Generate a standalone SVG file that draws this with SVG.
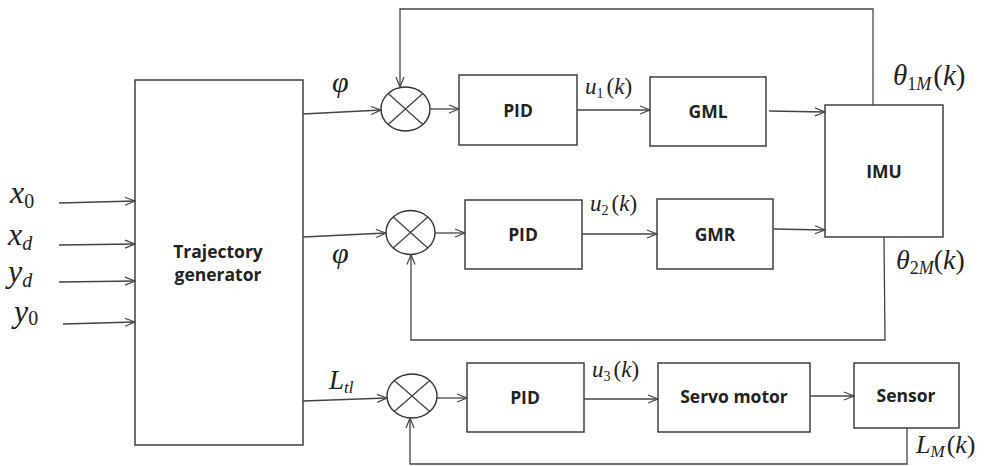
<svg xmlns="http://www.w3.org/2000/svg" width="985" height="466" viewBox="0 0 985 466">
<style>
.box{fill:#fff;stroke:#333;stroke-width:1.4}
.lbl{font-family:"Open Sans","DejaVu Sans",sans-serif;font-weight:bold;font-size:17.5px;fill:#222;text-anchor:middle}
.ln{fill:none;stroke:#444;stroke-width:1.3}
.m{font-family:"Liberation Serif","Times New Roman",serif;fill:#222}
.i{font-style:italic}
</style>
<defs>
<marker id="ar" viewBox="0 0 12 10" refX="11" refY="5" markerWidth="12" markerHeight="10" markerUnits="userSpaceOnUse" orient="auto">
<path d="M1,1 L11,5 L1,9" fill="none" stroke="#444" stroke-width="1.2"/>
</marker>
</defs>
<rect width="985" height="466" fill="#fff"/>

<g id="traj"><rect class="box" x="135" y="80" width="168" height="365"/>
<text class="lbl" x="218" y="258">Trajectory</text><text class="lbl" x="218" y="281">generator</text></g>

<g id="sum1"><ellipse class="box" cx="405.5" cy="109" rx="24.5" ry="22"/>
<path class="ln" d="M388.2,93.4 L422.8,124.6 M422.8,93.4 L388.2,124.6"/></g>
<g id="sum2"><ellipse class="box" cx="410.5" cy="232.5" rx="24.5" ry="22"/>
<path class="ln" d="M393.2,216.9 L427.8,248.1 M427.8,216.9 L393.2,248.1"/></g>
<g id="sum3"><ellipse class="box" cx="412" cy="396" rx="25" ry="22"/>
<path class="ln" d="M394.3,380.4 L429.7,411.6 M429.7,380.4 L394.3,411.6"/></g>

<g id="pid1"><rect class="box" x="459" y="75" width="118" height="70"/><text class="lbl" x="518" y="117">PID</text></g>
<g id="gml"><rect class="box" x="650" y="77" width="116" height="69"/><text class="lbl" x="708" y="118">GML</text></g>
<g id="imu"><rect class="box" x="825" y="105" width="118" height="132"/><text class="lbl" x="884" y="178">IMU</text></g>
<g id="pid2"><rect class="box" x="465" y="200" width="117" height="69"/><text class="lbl" x="523" y="241">PID</text></g>
<g id="gmr"><rect class="box" x="657" y="199" width="116" height="70"/><text class="lbl" x="715" y="241">GMR</text></g>
<g id="pid3"><rect class="box" x="467" y="363" width="117" height="69"/><text class="lbl" x="525" y="404">PID</text></g>
<g id="servo"><rect class="box" x="658" y="363" width="152" height="69"/><text class="lbl" x="734" y="403">Servo motor</text></g>
<g id="sensor"><rect class="box" x="854" y="363" width="105" height="65"/><text class="lbl" x="906" y="402">Sensor</text></g>

<g id="connectors">
<path class="ln" marker-end="url(#ar)" d="M59,203 L135,201"/>
<path class="ln" marker-end="url(#ar)" d="M59,245 L135,244"/>
<path class="ln" marker-end="url(#ar)" d="M59,282 L135,281"/>
<path class="ln" marker-end="url(#ar)" d="M63,324 L135,322"/>
<path class="ln" marker-end="url(#ar)" d="M303,114 L381,110"/>
<path class="ln" marker-end="url(#ar)" d="M303,237 L386,233"/>
<path class="ln" marker-end="url(#ar)" d="M303,401 L387,398"/>
<path class="ln" marker-end="url(#ar)" d="M430,109 L459,109"/>
<path class="ln" marker-end="url(#ar)" d="M435,233 L465,233"/>
<path class="ln" marker-end="url(#ar)" d="M437,398 L467,398"/>
<path class="ln" marker-end="url(#ar)" d="M577,110 L650,110"/>
<path class="ln" marker-end="url(#ar)" d="M769,111 L825,112"/>
<path class="ln" marker-end="url(#ar)" d="M582,234 L657,234"/>
<path class="ln" marker-end="url(#ar)" d="M773,229 L825,230"/>
<path class="ln" marker-end="url(#ar)" d="M584,399 L658,399"/>
<path class="ln" marker-end="url(#ar)" d="M810,396 L854,396"/>
<path class="ln" marker-end="url(#ar)" d="M873,105 L873,9 L400,9 L400,87"/>
<path class="ln" marker-end="url(#ar)" d="M884,237 L885,340 L411,340 L411,254.5"/>
<path class="ln" marker-end="url(#ar)" d="M907,428 L907,464 L410,464 L410,418"/>
</g>

<g id="labels">
<text class="m" x="10" y="203" font-size="32"><tspan class="i">x</tspan><tspan font-size="20" dy="5">0</tspan></text>
<text class="m" x="8" y="245" font-size="32"><tspan class="i">x</tspan><tspan class="i" font-size="20" dy="5">d</tspan></text>
<text class="m" x="8" y="282" font-size="32"><tspan class="i">y</tspan><tspan class="i" font-size="20" dy="5">d</tspan></text>
<text class="m" x="14" y="322" font-size="32"><tspan class="i">y</tspan><tspan font-size="20" dy="3">0</tspan></text>
<text class="m i" x="332" y="92" font-size="30">φ</text>
<text class="m i" x="332" y="263" font-size="30">φ</text>
<text class="m" x="329" y="389" font-size="27"><tspan class="i">L</tspan><tspan class="i" font-size="17" dy="4">tl</tspan></text>
<text class="m" x="585" y="94" font-size="23"><tspan class="i">u</tspan><tspan font-size="14" dy="4">1</tspan><tspan dy="-4" dx="3">(</tspan><tspan class="i">k</tspan>)</text>
<text class="m" x="590" y="211" font-size="23"><tspan class="i">u</tspan><tspan font-size="14" dy="4">2</tspan><tspan dy="-4" dx="3">(</tspan><tspan class="i">k</tspan>)</text>
<text class="m" x="592" y="377" font-size="23"><tspan class="i">u</tspan><tspan font-size="14" dy="4">3</tspan><tspan dy="-4" dx="3">(</tspan><tspan class="i">k</tspan>)</text>
<text class="m" x="893" y="85" font-size="29"><tspan class="i">θ</tspan><tspan font-size="18" dy="5">1</tspan><tspan class="i" font-size="18">M</tspan><tspan dy="-5" dx="2">(</tspan><tspan class="i">k</tspan>)</text>
<text class="m" x="896" y="269" font-size="28"><tspan class="i">θ</tspan><tspan font-size="18" dy="5">2</tspan><tspan class="i" font-size="18">M</tspan><tspan dy="-5">(</tspan><tspan class="i">k</tspan>)</text>
<text class="m" x="916" y="453" font-size="26"><tspan class="i">L</tspan><tspan class="i" font-size="17" dy="4">M</tspan><tspan dy="-4" dx="2">(</tspan><tspan class="i">k</tspan>)</text>
</g>
</svg>
